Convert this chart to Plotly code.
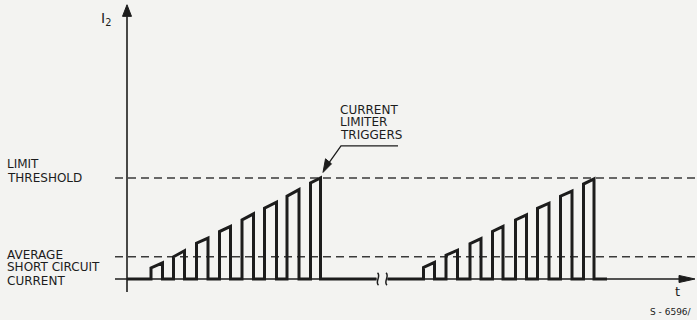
import plotly.graph_objects as go

# Current waveform I2 during a short circuit: pulses whose peak ramps up
# until the current limiter triggers, then the sequence repeats.
# Time units are arbitrary; current in units where the limit threshold = 10.
LIMIT_THRESHOLD = 10.0
AVERAGE_SC_CURRENT = 2.2

burst1_start = [2.4, 4.65, 6.95, 9.25, 11.5, 13.75, 16.0, 18.35]
burst1_end = [3.55, 5.75, 8.1, 10.35, 12.65, 14.95, 17.2, 19.35]
burst1_rise = [1.1, 2.2, 3.55, 4.7, 5.85, 7.0, 8.2, 9.5]
burst1_peak = [1.6, 2.8, 4.05, 5.2, 6.45, 7.6, 8.85, 10.0]

burst2_start = [29.65, 31.9, 34.3, 36.55, 38.85, 41.05, 43.35, 45.65]
burst2_end = [30.75, 33.05, 35.4, 37.6, 39.95, 42.2, 44.5, 46.7]
burst2_rise = [1.15, 2.35, 3.5, 4.7, 5.85, 7.0, 8.2, 9.4]
burst2_peak = [1.65, 2.85, 4.0, 5.2, 6.35, 7.5, 8.7, 9.9]

# time window of each drawn segment and the axis break between them
segment1 = (0.0, 24.95)
segment2 = (26.05, 48.0)
time_break = 25.5

X_RANGE = [-12.7, 57.0]
Y_RANGE = [-4.06, 27.62]
INK = "#1c1c1c"
PAPER = "#f3f3f1"
FONT = "DejaVu Sans"


def waveform(t0, t1, starts, ends, rises, peaks):
    xs, ys = [t0], [0.0]
    for s, e, r, p in zip(starts, ends, rises, peaks):
        xs += [s, s, e, e]
        ys += [0.0, r, p, 0.0]
    xs.append(t1)
    ys.append(0.0)
    return xs, ys


def line_trace(xs, ys, width, color=INK, dash=None):
    return go.Scatter(x=xs, y=ys, mode="lines",
                      line=dict(color=color, width=width, dash=dash),
                      hoverinfo="skip")


def head_trace(xs, ys):
    return go.Scatter(x=xs, y=ys, mode="lines", fill="toself",
                      fillcolor=INK, line=dict(color=INK, width=1),
                      hoverinfo="skip")


fig = go.Figure()

# reference levels
for level in (LIMIT_THRESHOLD, AVERAGE_SC_CURRENT):
    fig.add_trace(line_trace([-1.2, 57.0], [level, level], 1.3,
                             color="#3a3a3a", dash="8px,5px"))

# time axis (broken) and current axis
fig.add_trace(line_trace([-1.2, segment1[1], None, segment2[0], 55.3],
                         [0, 0, None, 0, 0], 1.6))
fig.add_trace(line_trace([0, 0], [-1.3, 26.0], 1.6))

# arrowheads of both axes
fig.add_trace(head_trace([-0.45, 0, 0.45, -0.45], [26.0, 27.15, 26.0, 26.0]))
fig.add_trace(head_trace([55.2, 56.8, 55.2, 55.2], [0.35, 0, -0.35, 0.35]))

# the two pulse trains
for seg, st, en, ri, pk in (
        (segment1, burst1_start, burst1_end, burst1_rise, burst1_peak),
        (segment2, burst2_start, burst2_end, burst2_rise, burst2_peak)):
    xs, ys = waveform(seg[0], seg[1], st, en, ri, pk)
    fig.add_trace(line_trace(xs, ys, 3))

# leader pointing at the last pulse of the first train
tip_x, tip_y = burst1_end[-1] + 0.25, burst1_peak[-1] + 0.55
fig.add_trace(line_trace([27.1, 21.4, tip_x + 0.45], [13.17, 13.17, tip_y + 0.75], 1.3))
fig.add_trace(head_trace([tip_x, tip_x + 0.25, tip_x + 0.85, tip_x],
                         [tip_y, tip_y + 1.35, tip_y + 0.85, tip_y]))

# break marks on the time axis
shapes = []
for cx in (time_break - 0.4, time_break + 0.45):
    shapes.append(dict(
        type="path", xref="x", yref="y",
        path=(f"M {cx - 0.05},0.6 C {cx + 0.35},0.3 {cx - 0.35},-0.3 "
              f"{cx + 0.05},-0.6"),
        line=dict(color=INK, width=1.5)))

annotations = []


def label(text, x, y, size=12, xanchor="left"):
    annotations.append(dict(
        x=x, y=y, xref="x", yref="y", text=text, showarrow=False,
        xanchor=xanchor, yanchor="middle", borderpad=0, borderwidth=0,
        font=dict(family=FONT, size=size, color=INK)))


label("LIMIT", -12.0, 11.41)
label("THRESHOLD", -12.0, 10.02)
label("AVERAGE", -12.0, 2.33)
label("SHORT CIRCUIT", -12.0, 1.14)
label("CURRENT", -12.0, -0.15)
label("CURRENT", 21.25, 16.71)
label("LIMITER", 21.25, 15.50)
label("TRIGGERS", 21.25, 14.24)
label("I<sub>2</sub>", -2.6, 25.75, size=14)
label("t", 55.0, -1.19, size=13, xanchor="center")
label("S - 6596/", 54.4, -3.22, size=9, xanchor="center")

fig.update_layout(
    width=697, height=320,
    margin=dict(l=0, r=0, t=0, b=0),
    paper_bgcolor=PAPER, plot_bgcolor=PAPER,
    showlegend=False,
    xaxis=dict(range=X_RANGE, visible=False, fixedrange=True),
    yaxis=dict(range=Y_RANGE, visible=False, fixedrange=True),
    shapes=shapes,
    annotations=annotations,
)

fig.write_html("out.html")
